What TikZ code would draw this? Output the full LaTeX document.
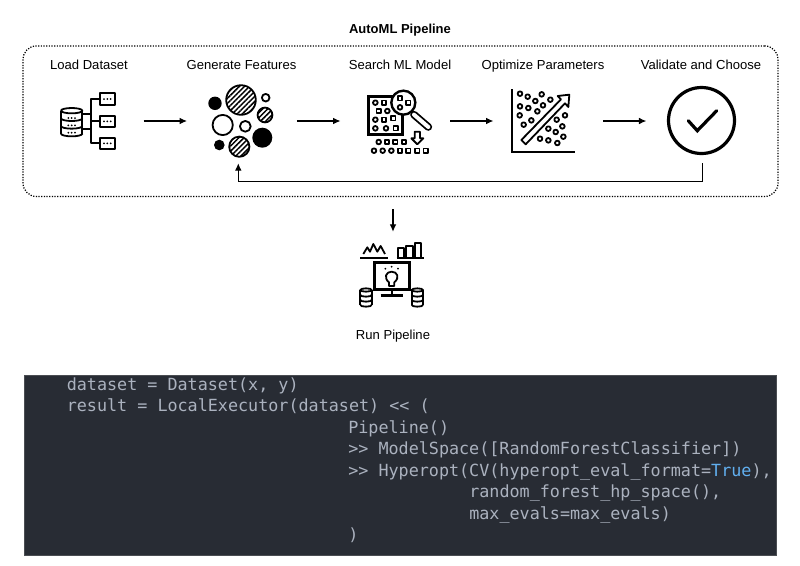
\documentclass[tikz,border=0pt]{standalone}
\usepackage{fontspec}
\setmainfont{Liberation Sans}
\newfontfamily\codefont{DejaVu Sans Mono}
\usetikzlibrary{positioning}
\usetikzlibrary{arrows.meta}
\usetikzlibrary{patterns.meta}
\definecolor{codebg}{HTML}{282C34}
\definecolor{codeedge}{HTML}{4A4D52}
\definecolor{codefg}{HTML}{ABB2BF}
\definecolor{codeblue}{HTML}{61AFEF}
\tikzstyle{stepnode} = [minimum width=82.1pt, minimum height=63pt, inner sep=0pt]
\tikzstyle{steplabel} = [font=\fontsize{9.8}{12}\selectfont, inner sep=0pt, text height=1.5ex, text depth=.25ex]
\tikzstyle{pipebox} = [draw, line width=.9pt, dash pattern=on .9pt off 1.1pt, rounded corners=10pt, minimum width=566.2pt, minimum height=112.9pt, inner sep=0pt]
\tikzstyle{flowline} = [-{Latex[length=5.5pt,width=5pt]}, line width=.8pt]
\tikzstyle{iconline} = [line width=1.35pt, line join=round]
\tikzstyle{iconheavy} = [line width=1.8pt, line join=miter]
\tikzstyle{hatched} = [pattern={Lines[angle=45,distance=2.7pt,line width=1.1pt]}]
\tikzstyle{codeline} = [anchor=base west, inner sep=0pt, text=codefg, font=\codefont\fontsize{12.56}{15}\selectfont]
\newcommand{\dbstack}[5]{% centre x, top y, x radius, y radius, layer height
  \draw[iconline] (#1,#2) ellipse [x radius=#3, y radius=#4];
  \draw[iconline] (#1-#3,#2) -- (#1-#3,#2+3*#5);
  \draw[iconline] (#1+#3,#2) -- (#1+#3,#2+3*#5);
  \foreach \k in {1,2,3}
    \draw[iconline] (#1-#3,#2+\k*#5) arc[start angle=180, end angle=0, x radius=#3, y radius=#4];
}

\begin{document}
\begin{tikzpicture}[x=.75pt, y=-.75pt]
  \useasboundingbox (0,0) rectangle (800,565);

  \node[font=\fontsize{9.75}{12}\selectfont\bfseries, inner sep=0pt] (title) at (400,30) {AutoML Pipeline};
  \node[pipebox] (automl) at (400.5,121.2) {};

  \node[stepnode] (load) at (88.5,121) {};
  \node[stepnode, right=32.6pt of load] (features) {};
  \node[stepnode, right=32.6pt of features] (search) {};
  \node[stepnode, right=32.2pt of search] (optimize) {};
  \node[stepnode, right=32.2pt of optimize] (validate) {};
  \node[stepnode, minimum height=58.5pt] (run) at (393,271) {};

  \node[steplabel] (loadtext) at (89,65) {Load Dataset};
  \node[steplabel] (featurestext) at (241.5,65) {Generate Features};
  \node[steplabel] (searchtext) at (400,65) {Search ML Model};
  \node[steplabel] (optimizetext) at (543,65) {Optimize Parameters};
  \node[steplabel] (validatetext) at (701,65) {Validate and Choose};
  \node[steplabel, below=14pt of run] (runtext) {Run Pipeline};

  \draw[flowline] (load) -- (features);
  \draw[flowline] (features) -- (search);
  \draw[flowline] (search) -- (optimize);
  \draw[flowline] (optimize) -- (validate);
  \draw[flowline] ([xshift=1pt]validate.south) -- ++(0,18) -| ([xshift=-2.75pt]features.south);
  \draw[flowline, shorten <=9pt] (run |- automl.south) -- (run.north);

  % load dataset
  \begin{scope}[shift={(55,88)}, x=.25pt, y=-.25pt]
    \dbstack{50}{68}{32}{8}{23}
    \foreach \y in {90,112,134}
      \foreach \x in {40,50,60}
        \fill (\x,\y) circle[radius=3];
    \draw[iconline] (135,33) -- (107,33) -- (107,165) -- (135,165);
    \draw[iconline] (82,78) -- (107,78);
    \draw[iconline] (82,122) -- (107,122);
    \draw[iconline] (107,100) -- (135,100);
    \foreach \y in {33,100,166} {
      \draw[iconline] (135,\y-17) rectangle (180,\y+17);
      \foreach \x in {147,157,167}
        \fill (\x,\y) circle[radius=3];
    }
  \end{scope}

  % generate features
  \foreach \x/\y/\r in {241/100/14.8, 265/115/7.4, 239.3/146.7/10.1}
    \draw[iconline, hatched] (\x,\y) circle[radius=\r];
  \foreach \x/\y/\r in {265.7/97.7/3.8, 222.7/125/10.1, 245.3/126.3/5.4}
    \draw[iconline] (\x,\y) circle[radius=\r];
  \foreach \x/\y/\r in {215/103.3/6.7, 262.3/137.7/10, 219.3/145/5.3}
    \fill (\x,\y) circle[radius=\r];

  % search ml model
  \begin{scope}[shift={(340,80)}, x=.25pt, y=-.25pt]
    \draw[iconheavy] (86,49) rectangle (188,163);
    \foreach \x/\y in {106/68, 142/93, 106/119, 106/145, 138/145, 116/186, 102/212, 128/212, 154/212}
      \draw[iconline] (\x,\y) circle[radius=7];
    \foreach \x/\y in {132/68, 116/93, 132/119, 160/115, 167/145, 141/186, 166/186, 192/186, 180/212, 205/212, 232/212, 257/212}
      \draw[iconline] (\x-6.5,\y-6.5) rectangle (\x+6.5,\y+6.5);
    \draw[line width=1.35pt, double, double distance=3pt, line cap=round] (222,104) -- (265,141);
    \draw[iconheavy, fill=white] (190,68) circle[radius=36];
    \draw[iconline] (180,82) circle[radius=7];
    \foreach \x/\y in {180/55, 205/68}
      \draw[iconline] (\x-6.5,\y-6.5) rectangle (\x+6.5,\y+6.5);
    \draw[iconline] (224,155) -- (240,155) -- (240,175) -- (250,175) -- (232,193) -- (214,175) -- (224,175) -- cycle;
  \end{scope}

  % optimize parameters
  \begin{scope}[shift={(505,82)}, x=.25pt, y=-.25pt]
    \draw[iconheavy] (21,22) -- (21,210) -- (210,210);
    \foreach \x/\y in {45/35, 68/44, 110/37, 91/57, 136/53, 114/70, 45/73, 70/78, 97/88, 44/100, 79/115, 56/128,
                       180/100, 155/113, 172/133, 130/140, 152/150, 175/164, 105/170, 130/175, 157/183}
      \draw[iconline] (\x,\y) circle[radius=7];
    \draw[iconline] (49,174) -- (168,52) -- (158,42) -- (193,38) -- (190,75) -- (180,64) -- (62,187) -- cycle;
  \end{scope}

  % validate and choose
  \draw[line width=2.4pt] (701.5,120.5) circle[radius=33];
  \draw[line width=2.4pt, line cap=round, line join=miter] (688.3,120.7) -- (697.3,130.7) -- (716.7,110.7);

  % run pipeline
  \begin{scope}[shift={(340,230)}, x=.25pt, y=-.25pt]
    \draw[iconline] (60,85) -- (145,85);
    \draw[iconline] (170,85) -- (252,85);
    \draw[iconline] (70,72) -- (82,52) -- (90,65) -- (100,42) -- (112,65) -- (122,48) -- (135,72);
    \draw[iconline] (175,85) -- (175,55) -- (192,55) -- (192,85);
    \draw[iconline] (199,85) -- (199,47) -- (218,47) -- (218,85);
    \draw[iconline] (225,85) -- (225,40) -- (243,40) -- (243,85);
    \draw[iconheavy] (103,98) rectangle (208,178);
    \draw[iconline] (155,178) -- (155,197);
    \draw[iconheavy] (122,197) -- (190,197);
    \draw[iconline] (147,157) .. controls (130,143) and (138,125) .. (155,125) .. controls (172,125) and (180,143) .. (163,157) -- (163,168) -- (147,168) -- cycle;
    \foreach \x/\y in {136/116, 155/110, 174/116}
      \fill (\x,\y) circle[radius=3];
    \dbstack{78}{180}{17}{5}{15}
    \dbstack{232}{180}{17}{5}{15}
  \end{scope}

  % code
  \node[draw=codeedge, fill=codebg, line width=.6pt, minimum width=564pt, minimum height=135pt, inner sep=0pt] (codebox) at (400,465) {};
  \node[codeline] (line1) at (66.5,390) {dataset = Dataset(x, y)};
  \node[codeline] (line2) at (66.5,411.5) {result = LocalExecutor(dataset) << (};
  \node[codeline] (line3) at (348,433) {Pipeline()};
  \node[codeline] (line4) at (348,454.5) {>> ModelSpace([RandomForestClassifier])};
  \node[codeline] (line5) at (348,476) {>> Hyperopt(CV(hyperopt\_eval\_format={\color{codeblue}True}),};
  \node[codeline] (line6) at (469,497.5) {random\_forest\_hp\_space(),};
  \node[codeline] (line7) at (469,519) {max\_evals=max\_evals)};
  \node[codeline] (line8) at (348,540.5) {)};
\end{tikzpicture}
\end{document}
